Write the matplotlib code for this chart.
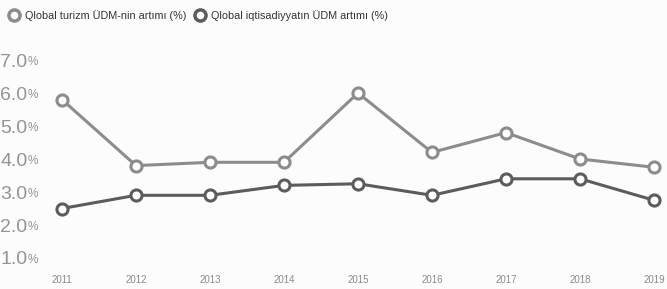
import matplotlib.pyplot as plt
from matplotlib.lines import Line2D
from matplotlib import font_manager

years = [2011, 2012, 2013, 2014, 2015, 2016, 2017, 2018, 2019]
tourism_gdp = [5.8, 3.8, 3.9, 3.9, 6.0, 4.2, 4.8, 4.0, 3.75]
economy_gdp = [2.5, 2.9, 2.9, 3.2, 3.25, 2.9, 3.4, 3.4, 2.75]
yticks = [1.0, 2.0, 3.0, 4.0, 5.0, 6.0, 7.0]
labels = ["Qlobal turizm ÜDM-nin artımı (%)", "Qlobal iqtisadiyyatın ÜDM artımı (%)"]

# dar şrift varsa onu götür
names = {f.name for f in font_manager.fontManager.ttflist}
narrow = "Liberation Sans Narrow" if "Liberation Sans Narrow" in names else "Liberation Sans"
plt.rcParams['font.family'] = [narrow, 'DejaVu Sans']

c_tour = '#8c8c8c'
c_econ = '#5c5c5c'

fig = plt.figure(figsize=(6.67, 2.89), dpi=100, facecolor='#fcfcfc')
ax = fig.add_axes([62 / 667, 1 - 258 / 289, (654 - 62) / 667, (258 - 60) / 289])
ax.set_facecolor('#fcfcfc')

for vals, col in [(tourism_gdp, c_tour), (economy_gdp, c_econ)]:
    ax.plot(years, vals, color=col, lw=2.2, marker='o', ms=8, mfc='white',
            mec=col, mew=2.2, clip_on=False, zorder=3)

ax.set_xlim(2011, 2019)
ax.set_ylim(1.0, 7.0)
for s in ax.spines.values():
    s.set_visible(False)

ax.set_xticks(years)
ax.set_xticklabels([str(y) for y in years], fontsize=7, color='#8a8a8a')
ax.tick_params(axis='x', length=0, pad=12)

ax.set_yticks(yticks)
ax.set_yticklabels([f"{v:.1f}" for v in yticks], fontsize=14, color='#949494')
ax.tick_params(axis='y', length=0, pad=25)
for t in ax.get_yticklabels():
    ax.annotate("%", xy=(1, 0.12), xycoords=t, fontsize=8.5, color='#949494',
                va='bottom', ha='left', annotation_clip=False)

handles = [Line2D([], [], ls='none', marker='o', ms=8, mfc='white', mec=c_tour, mew=2.5),
           Line2D([], [], ls='none', marker='o', ms=8, mfc='white', mec=c_econ, mew=2.5)]
fig.legend(handles, labels, loc='upper left', bbox_to_anchor=(0.0, 1.0), ncol=2,
           frameon=False, fontsize=7.8, handlelength=0.8, handletextpad=0.6,
           columnspacing=0.9, labelcolor='#333333')

fig.savefig('out.png', dpi=100, facecolor=fig.get_facecolor())
